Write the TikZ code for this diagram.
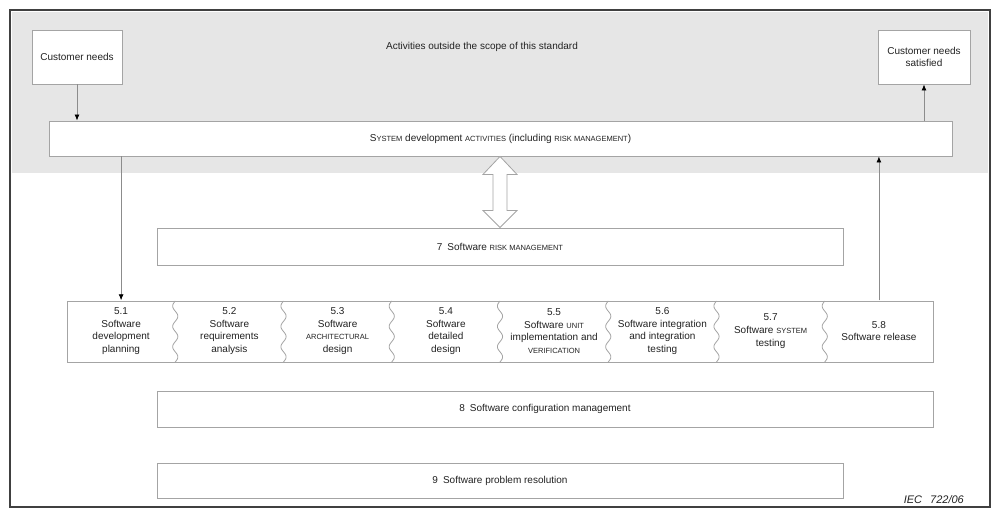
\documentclass[tikz,border=0pt]{standalone}
\usepackage{fontspec}
\setmainfont{Liberation Sans}
\usetikzlibrary{arrows.meta,calc}
\definecolor{bggray}{HTML}{E6E6E6}
\definecolor{boxgray}{HTML}{A4A4A4}
\definecolor{linegray}{HTML}{8C8C8C}
\definecolor{framegray}{HTML}{404040}
\definecolor{txt}{HTML}{222222}
\newcommand{\smc}[1]{{\fontsize{7.5}{9}\selectfont #1}}
\tikzset{
  box/.style={draw=boxgray, fill=white, line width=0.9pt, inner sep=0pt, text=txt,
    font=\fontsize{10}{12.5}\selectfont, align=center},
  cell/.style={inner sep=0pt, minimum width=108.25pt, minimum height=61pt, text=txt,
    font=\fontsize{10}{12.6}\selectfont, align=center},
  arr/.style={draw=linegray, line width=0.8pt, -{Latex[length=6pt,width=5pt,color=black]}},
  boxline/.style={draw=boxgray, line width=0.9pt},
  dbl/.style={draw=boxgray, fill=white, line width=0.8pt, line join=miter},
  plain/.style={text=txt, font=\fontsize{10}{12.5}\selectfont, inner sep=0pt}
}
\begin{document}
\begin{tikzpicture}[x=1pt,y=-1pt]
\useasboundingbox (0,0) rectangle (1003,518);
% background regions
\fill[bggray] (12,12) rectangle (988,173);
\draw[framegray, line width=1.2pt] (10,10) rectangle (990,507);

% top nodes
\node[plain] (act) at (482,47) {Activities outside the scope of this standard};
\node[box, minimum width=90pt, minimum height=54pt] (cn) at (77,57) {Customer needs};
\node[box, minimum width=92pt, minimum height=54pt] (cs) at (924,57) {Customer needs\\satisfied};
\node[box, minimum width=903pt, minimum height=35pt] (sys) at (500.5,138.5)
  {S\smc{YSTEM} development \smc{ACTIVITIES} (including \smc{RISK MANAGEMENT})};

% bars
\node[box, minimum width=686pt, minimum height=37pt] (r7) at (500,246.5) {7\enspace Software \smc{RISK MANAGEMENT}};
\node[box, minimum width=776pt, minimum height=36pt] (r8) at (545,409) {8\enspace Software configuration management};
\node[box, minimum width=686pt, minimum height=35pt] (r9) at (500,480.5) {9\enspace Software problem resolution};

% process row
\fill[white] (67,301) rectangle (933,362);
\draw[boxline] (67,301) rectangle (933,362);
\foreach \xd in {175.25,283.5,391.75,500,608.25,716.5,824.75}{
  \draw[boxline, line width=0.8pt] plot[domain=0:61, samples=80, smooth, variable=\t]
    ({\xd-2.6*sin(17.7049*\t)}, {301+\t});
}
\node[cell] (c1) at (121.1,331) {5.1\\Software\\development\\planning};
\node[cell] (c2) at (229.4,331) {5.2\\Software\\requirements\\analysis};
\node[cell] (c3) at (337.6,331) {5.3\\Software\\\smc{ARCHITECTURAL}\\design};
\node[cell] (c4) at (445.9,331) {5.4\\Software\\detailed\\design};
\node[cell] (c5) at (554.1,331) {5.5\\Software \smc{UNIT}\\implementation and\\\smc{VERIFICATION}};
\node[cell] (c6) at (662.4,331) {5.6\\Software integration\\and integration\\testing};
\node[cell] (c7) at (770.6,331) {5.7\\Software \smc{SYSTEM}\\testing};
\node[cell] (c8) at (878.9,331) {5.8\\Software release};

% connectors
\draw[arr] (cn.south) -- (cn.south |- sys.north);
\draw[arr] (sys.north -| cs.south) -- (cs.south);
\draw[arr] (sys.south -| c1.north) -- (c1.north);
\draw[arr] (c8.north) -- (c8.north |- sys.south);

% double arrow between system activities and risk management
\coordinate (da) at (r7.north |- sys.south);
\coordinate (db) at (r7.north);
\draw[dbl] (da) -- ($(da)+(-17,18)$) -- ($(da)+(-7,18)$) -- ($(db)+(-7,-17)$) -- ($(db)+(-17,-17)$)
  -- (db) -- ($(db)+(17,-17)$) -- ($(db)+(7,-17)$) -- ($(da)+(7,18)$) -- ($(da)+(17,18)$) -- cycle;

% label
\node[text=txt, font=\itshape\fontsize{11}{13}\selectfont, anchor=base east, inner sep=0pt] (iec) at (964,503) {IEC\hspace{8pt}722/06};
\end{tikzpicture}
\end{document}
